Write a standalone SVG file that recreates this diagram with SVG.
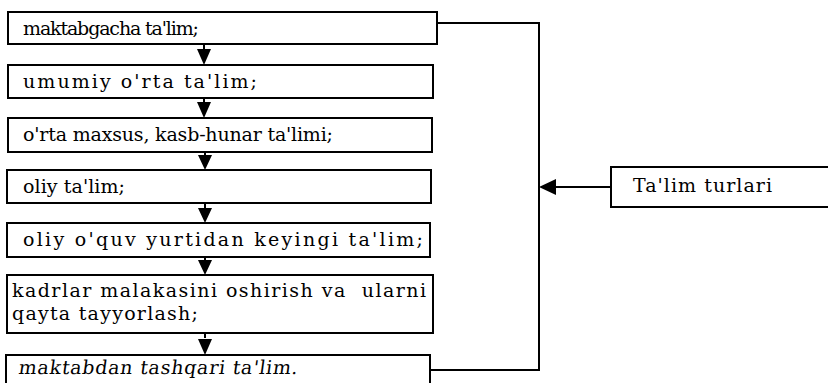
<svg xmlns="http://www.w3.org/2000/svg" width="828" height="383" viewBox="0 0 828 383">
<style>
.box{fill:#fff;stroke:#000;stroke-width:2}
.ln{fill:none;stroke:#000;stroke-width:2}
.ah{fill:#000;stroke:none}
text{fill:#000;font-family:"DejaVu Serif","Liberation Serif",serif;font-size:19px}
</style>
<rect x="0" y="0" width="828" height="383" fill="#fff"/>
<g id="connectors">
<path class="ln" d="M437 23 H539 V370 H430"/>
<path class="ln" d="M611 187 H552"/>
<polygon class="ah" points="539,187 556,179 556,195"/>
<path class="ln" d="M204 44 V50"/>
<polygon class="ah" points="197,49 211,49 204,65"/>
<path class="ln" d="M204 98 V103"/>
<polygon class="ah" points="197,102 211,102 204,118"/>
<path class="ln" d="M205 152 V156"/>
<polygon class="ah" points="198,155 212,155 205,170"/>
<path class="ln" d="M205 203 V208"/>
<polygon class="ah" points="198,208 212,208 205,223"/>
<path class="ln" d="M205 257 V261"/>
<polygon class="ah" points="198,260 212,260 205,275"/>
<path class="ln" d="M205 333 V338"/>
<polygon class="ah" points="198,339 212,339 205,355"/>
</g>
<g id="n1"><rect class="box" x="8" y="12" width="429" height="32"/><text x="23" y="35" textLength="176" lengthAdjust="spacing">maktabgacha ta'lim;</text></g>
<g id="n2"><rect class="box" x="8" y="65" width="425" height="33"/><text x="23" y="88" textLength="234" lengthAdjust="spacing">umumiy o'rta ta'lim;</text></g>
<g id="n3"><rect class="box" x="8" y="118" width="424" height="34"/><text x="23" y="141" textLength="310" lengthAdjust="spacing">o'rta maxsus, kasb-hunar ta'limi;</text></g>
<g id="n4"><rect class="box" x="7" y="170" width="424" height="33"/><text x="23" y="193" textLength="102" lengthAdjust="spacing">oliy ta'lim;</text></g>
<g id="n5"><rect class="box" x="7" y="223" width="423" height="34"/><text x="23" y="246" textLength="400" lengthAdjust="spacing">oliy o'quv yurtidan keyingi ta'lim;</text></g>
<g id="n6"><rect class="box" x="7" y="275" width="426" height="58"/><text x="12" y="297" textLength="414" lengthAdjust="spacing" xml:space="preserve">kadrlar malakasini oshirish va  ularni</text><text x="12" y="320" textLength="186" lengthAdjust="spacing">qayta tayyorlash;</text></g>
<g id="n7"><rect class="box" x="6" y="355" width="424" height="40"/><text transform="translate(18,374) skewX(-8)" x="0" y="0" textLength="279" lengthAdjust="spacing">maktabdan tashqari ta'lim.</text></g>
<g id="n8"><rect class="box" x="611" y="167" width="230" height="40"/><text x="633" y="192" textLength="139" lengthAdjust="spacing">Ta'lim turlari</text></g>
</svg>
